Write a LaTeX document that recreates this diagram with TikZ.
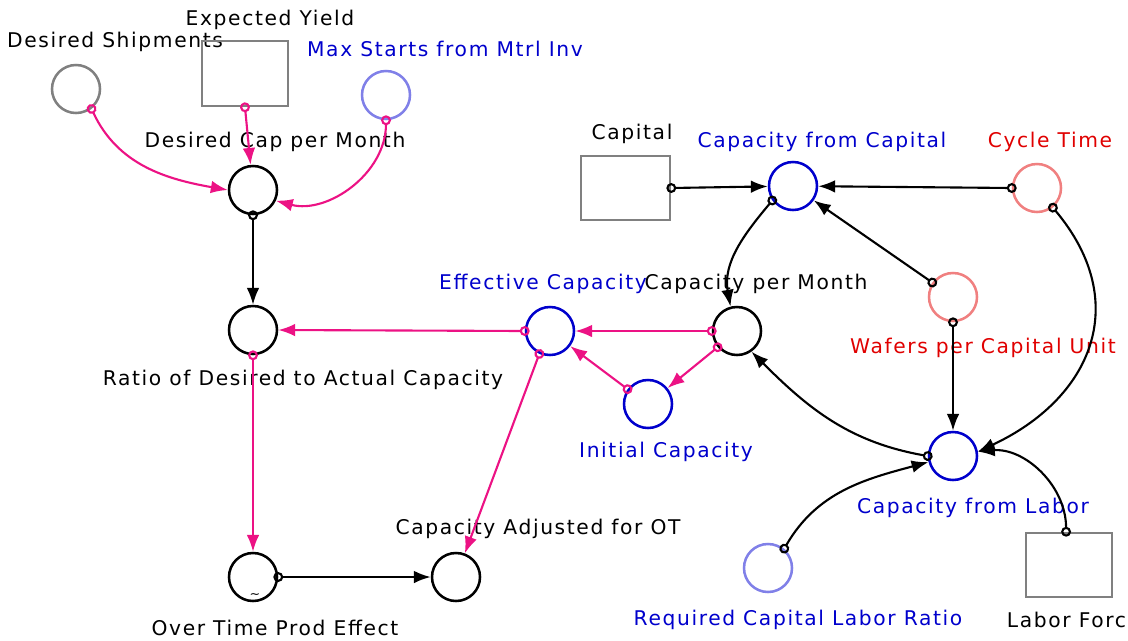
\documentclass[tikz,border=0pt]{standalone}
\usepackage{fontspec}
\setmainfont[LetterSpace=8]{DejaVu Sans}
\usetikzlibrary{arrows.meta}

\definecolor{rosaEnlace}{RGB}{236,18,132}
\definecolor{azulVar}{RGB}{0,0,204}
\definecolor{azulClaro}{RGB}{128,128,232}
\definecolor{rojoClaro}{RGB}{240,128,128}
\definecolor{rojoTxt}{RGB}{224,0,0}

\begin{document}
\begin{tikzpicture}[
        x=0.025cm, y=0.025cm,
        every node/.style={font=\fontsize{14.4}{16}\selectfont},
        aux/.style={circle, draw, line width=1.8pt, minimum size=1.2cm, inner sep=0pt},
        nivel/.style={draw=gray, line width=1.8pt, minimum width=2.15cm, minimum height=1.6cm, inner sep=0pt},
        enlace/.style={line width=1.5pt, shorten <=-3.5pt, {Circle[open,length=7pt,width=7pt]}-{Latex[length=12pt,width=9pt]}}
    ]
    \useasboundingbox (0,0) rectangle (1128,-640);

    % Entradas
    \node[aux, draw=gray] (desShip) at (76,-89) {};
    \node (desShipLbl) at (115,-42) {Desired Shipments};
    \node[nivel, minimum height=1.625cm] (expYield) at (245,-73.5) {};
    \node (expYieldLbl) at (270,-20) {Expected Yield};
    \node[aux, draw=azulClaro] (maxStarts) at (386,-95) {};
    \node[text=azulVar] (maxStartsLbl) at (445,-49) {Max Starts from Mtrl Inv};

    % Cadena izquierda
    \node[aux] (desCap) at (253,-190) {};
    \node (desCapLbl) at (275,-142) {Desired Cap per Month};
    \node[aux] (ratio) at (253,-330) {};
    \node (ratioLbl) at (303,-380) {Ratio of Desired to Actual Capacity};
    \node[aux] (overTime) at (253,-577) {};
    \node[font=\fontsize{9}{9}\selectfont, inner sep=0pt] (overTimeTilde) at (255,-596) {\textasciitilde};
    \node (overTimeLbl) at (275,-628) {Over Time Prod Effect};
    \node[aux] (capAdj) at (456,-577) {};
    \node (capAdjLbl) at (538,-529) {Capacity Adjusted for OT};

    % Capacidad
    \node[aux, draw=azulVar] (effCap) at (550,-331) {};
    \node[text=azulVar] (effCapLbl) at (543,-284) {Effective Capacity};
    \node[aux] (capMonth) at (737,-331) {};
    \node (capMonthLbl) at (756,-284) {Capacity per Month};
    \node[aux, draw=azulVar] (initCap) at (648,-404) {};
    \node[text=azulVar] (initCapLbl) at (666,-452) {Initial Capacity};

    % Capital y trabajo
    \node[nivel, minimum width=2.225cm] (capital) at (625.5,-188) {};
    \node (capitalLbl) at (632,-134) {Capital};
    \node[aux, draw=azulVar] (capFromCap) at (793,-186) {};
    \node[text=azulVar] (capFromCapLbl) at (822,-142) {Capacity from Capital};
    \node[aux, draw=rojoClaro] (cycleTime) at (1037,-188) {};
    \node[text=rojoTxt] (cycleTimeLbl) at (1050,-142) {Cycle Time};
    \node[aux, draw=rojoClaro] (wafers) at (953,-297) {};
    \node[text=rojoTxt] (wafersLbl) at (983,-348) {Wafers per Capital Unit};
    \node[aux, draw=azulVar] (capLabor) at (953,-456) {};
    \node[text=azulVar] (capLaborLbl) at (973,-508) {Capacity from Labor};
    \node[aux, draw=azulClaro] (reqRatio) at (768,-568) {};
    \node[text=azulVar] (reqRatioLbl) at (798,-620) {Required Capital Labor Ratio};
    \node[nivel] (laborForce) at (1069,-565) {};
    \node[anchor=west] (laborForceLbl) at (1002,-620) {Labor Force};

    % Enlaces rosas
    \draw[enlace, rosaEnlace] (desShip.-52) to[out=-65, in=170] (desCap.west);
    \draw[enlace, rosaEnlace] (expYield.south) -- (desCap);
    \draw[enlace, rosaEnlace] (maxStarts.south) to[out=-90, in=-15] (desCap.-25);
    \draw[enlace, rosaEnlace] (effCap.west) -- (ratio.east);
    \draw[enlace, rosaEnlace] (ratio.south) -- (overTime.north);
    \draw[enlace, rosaEnlace] (effCap.-115) -- (capAdj);
    \draw[enlace, rosaEnlace] (capMonth.west) -- (effCap.east);
    \draw[enlace, rosaEnlace] (capMonth.-140) -- (initCap);
    \draw[enlace, rosaEnlace] (initCap.144) -- (effCap);

    % Enlaces negros
    \draw[enlace] (desCap.south) -- (ratio.north);
    \draw[enlace] (overTime.east) -- (capAdj.west);
    \draw[enlace] (capital.east) -- (capFromCap);
    \draw[enlace] (cycleTime.west) -- (capFromCap);
    \draw[enlace] (wafers.145) -- (capFromCap);
    \draw[enlace] (capFromCap.-145) to[out=-130, in=100] (capMonth.105);
    \draw[enlace] (wafers.south) -- (capLabor.north);
    \draw[enlace] (cycleTime.-51) to[out=-50, in=25, looseness=1.25] (capLabor.10);
    \draw[enlace] (capLabor.west) to[out=170, in=-45] (capMonth.-55);
    \draw[enlace] (reqRatio.50) to[out=60, in=195] (capLabor.-166);
    \draw[enlace] (laborForce.95) to[out=90, in=5] (capLabor.10);
\end{tikzpicture}
\end{document}
